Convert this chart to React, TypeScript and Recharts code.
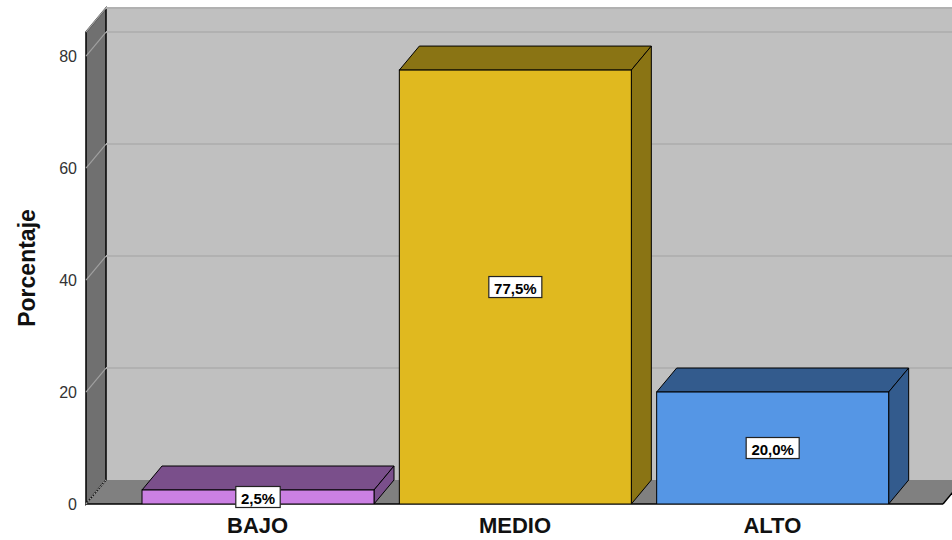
import React from 'react';
import { BarChart, Bar, XAxis, YAxis, CartesianGrid, LabelList } from 'recharts';

// values
const categories = ['BAJO', 'MEDIO', 'ALTO'];
const percentages = [2.5, 77.5, 20.0];
const yTicks = [0, 20, 40, 60, 80];
const yMax = 84.3;

const frontColors = ['#cb80e3', '#e0b91f', '#5596e5'];
const shadeColors = ['#7a4f8b', '#8a7414', '#335b8d'];

const data = categories.map((cat, i) => ({ cat, value: percentages[i] }));

// chart frame
const W = 952;
const H = 540;
const LEFT = 86;
const TOP = 32;
const RIGHT = 943;
const BOTTOM = 504;
const DX = 20;
const DY = 24;
const FONT = "'Liberation Sans', Arial, sans-serif";

const fmt = (v: number) => v.toFixed(1).replace('.', ',') + '%';

const Bar3D = (props: any) => {
  const { x, y, width, height, index } = props;
  if (width == null || height == null) return null;
  const front = frontColors[index % frontColors.length];
  const shade = shadeColors[index % shadeColors.length];
  const top = `${x},${y} ${x + DX},${y - DY} ${x + width + DX},${y - DY} ${x + width},${y}`;
  const side = `${x + width},${y} ${x + width + DX},${y - DY} ${x + width + DX},${y + height - DY} ${x + width},${y + height}`;
  return (
    <g>
      <polygon points={top} fill={shade} stroke='#000' strokeWidth={1} strokeLinejoin='round' />
      <polygon points={side} fill={shade} stroke='#000' strokeWidth={1} strokeLinejoin='round' />
      <rect x={x} y={y} width={width} height={height} fill={front} stroke='#000' strokeWidth={1} />
    </g>
  );
};

const ValueBox = (props: any) => {
  const { x, y, width, height, value } = props;
  const cx = x + width / 2;
  const cy = y + height / 2;
  const text = fmt(Number(value));
  const bw = text.length * 8.6 + 10;
  const bh = 21;
  return (
    <g>
      <rect x={cx - bw / 2} y={cy - bh / 2} width={bw} height={bh} fill='#fff' stroke='#222' strokeWidth={1.2} />
      <text
        x={cx}
        y={cy + 1}
        textAnchor='middle'
        dominantBaseline='central'
        fontFamily={FONT}
        fontWeight='bold'
        fontSize={15}
        fill='#000'
      >
        {text}
      </text>
    </g>
  );
};

const GridLine = (props: any) => {
  const { x1, y1, x2 } = props;
  const isZero = Math.abs(y1 - BOTTOM) < 1;
  return (
    <g key={props.key ?? `g-${y1}`}>
      {!isZero && (
        <line x1={x1 + DX} y1={y1 - DY} x2={x2 + DX + 40} y2={y1 - DY} stroke='#b1b1b1' strokeWidth={2} />
      )}
      <line
        x1={x1}
        y1={y1}
        x2={x1 + DX}
        y2={y1 - DY}
        stroke={isZero ? '#a4a4a4' : '#a0a0a0'}
        strokeWidth={1.2}
        strokeDasharray={isZero ? '2 1' : undefined}
      />
    </g>
  );
};

const Walls = () => (
  <svg width={W} height={H} style={{ position: 'absolute', left: 0, top: 0 }}>
    {/* back wall */}
    <rect x={LEFT + DX} y={TOP - DY} width={W} height={BOTTOM - TOP} fill='#c0c0c0' />
    {/* floor */}
    <polygon
      points={`${LEFT},${BOTTOM} ${LEFT + DX},${BOTTOM - DY} ${RIGHT + DX},${BOTTOM - DY} ${RIGHT},${BOTTOM}`}
      fill='#808080'
    />
    {/* left wall */}
    <polygon
      points={`${LEFT},${TOP} ${LEFT + DX},${TOP - DY} ${LEFT + DX},${BOTTOM - DY} ${LEFT},${BOTTOM}`}
      fill='#707070'
      stroke='#000'
      strokeWidth={1.5}
    />
    <line x1={LEFT + DX} y1={TOP - DY} x2={W} y2={TOP - DY} stroke='#000' strokeWidth={1.5} />
    <line x1={LEFT} y1={BOTTOM} x2={RIGHT} y2={BOTTOM} stroke='#000' strokeWidth={1.5} />
    <line x1={RIGHT} y1={BOTTOM} x2={RIGHT + DX} y2={BOTTOM - DY} stroke='#000' strokeWidth={1.5} />
  </svg>
);

const YLabel = (props: any) => {
  const vb = props.viewBox || {};
  const cy = (vb.y ?? TOP) + (vb.height ?? BOTTOM - TOP) / 2;
  return (
    <text
      x={27}
      y={cy}
      transform={`rotate(-90, 27, ${cy})`}
      textAnchor='middle'
      dominantBaseline='central'
      fontFamily={FONT}
      fontWeight='bold'
      fontSize={23}
      fill='#111'
    >
      Porcentaje
    </text>
  );
};

export default function App() {
  return (
    <div style={{ position: 'absolute', left: 0, top: 0, width: W, height: H, background: '#fff', fontFamily: FONT }}>
      <Walls />
      <div style={{ position: 'absolute', left: 0, top: 0 }}>
        <BarChart width={W} height={H} data={data} margin={{ top: TOP, right: W - RIGHT, left: 0, bottom: 0 }}>
          <CartesianGrid vertical={false} horizontal={GridLine} />
          <XAxis
            dataKey='cat'
            height={H - BOTTOM}
            tickLine={false}
            axisLine={false}
            tickMargin={7}
            padding={{ left: 43, right: 42 }}
            tick={{ fontSize: 22, fontWeight: 'bold', fill: '#111', fontFamily: FONT }}
          />
          <YAxis
            width={LEFT}
            domain={[0, yMax]}
            ticks={yTicks}
            allowDataOverflow
            tickLine={false}
            axisLine={false}
            tickMargin={3}
            tick={{ fontSize: 16, fill: '#333', fontFamily: FONT }}
            label={{ content: YLabel }}
          />
          <Bar dataKey='value' barSize={232} shape={Bar3D} isAnimationActive={false}>
            <LabelList dataKey='value' content={ValueBox} />
          </Bar>
        </BarChart>
      </div>
    </div>
  );
}
